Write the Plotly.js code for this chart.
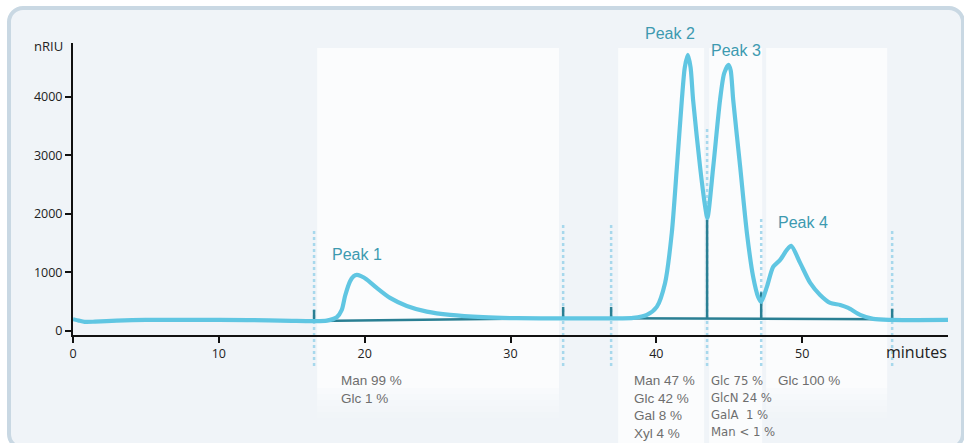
<!DOCTYPE html>
<html><head><meta charset="utf-8">
<script src="https://cdn.plot.ly/plotly-3.0.1.min.js"></script>
<style>
html,body{margin:0;padding:0;background:#fff;width:964px;height:443px;overflow:hidden}
#frame{position:absolute;left:7px;top:6px;width:958px;height:444px;box-sizing:border-box;border:4px solid #c9d8e3;border-radius:16px;background:#f0f4f8}
#chart{position:absolute;left:0;top:0;width:964px;height:443px}
</style></head><body><div id="frame"></div><div id="chart"></div>
<script>
// Chromatogram signal (minutes vs nRIU)
const minutes = [0,0.4,0.8,1.5,3,5,8,12,15,16.5,17.4,18.09,18.43,18.66,19.0,19.25,19.46,19.75,20.14,20.83,21.74,22.89,24.26,25.86,28.12,30.43,33.6,37.5,38.41,39.35,40.03,40.6,41.06,41.41,41.75,41.95,42.16,42.35,42.52,43.0,43.35,43.5,43.9,44.37,44.65,44.95,45.1,45.27,45.75,46.21,46.64,46.98,47.19,47.58,48.01,48.49,48.95,49.25,49.86,50.55,51.23,51.92,52.61,53.16,53.98,54.87,56.04,60];
const nriu =    [200,175,155,158,175,188,190,185,172,168,176,234,359,600,850,935,957,935,880,735,564,427,330,273,234,217,215,215,222,273,410,820,1675,2803,3949,4500,4718,4500,3949,2803,2120,1930,2800,3950,4400,4547,4450,3950,2800,1675,923,581,496,752,1094,1214,1385,1453,1162,820,615,479,444,393,273,205,188,188];

// Integration baselines and drop lines
const baseX = [16.53,33.61,null,36.9,56.17];
const baseY = [168,217,null,218,200];
const dropX = [16.53,16.53,null,33.61,33.61,null,36.9,36.9,null,43.48,43.48,null,47.19,47.19,null,56.17,56.17];
const dropY = [168,360,null,217,410,null,218,410,null,215,1900,null,212,660,null,200,380];

// Peak boundaries (dotted dividers)
const boundaries = [16.53,33.61,36.9,43.48,47.19,56.17];
const boundaryTop = [1760,1810,1810,3490,1950,1760];
const boundaryBottom = -600;

// Labels
const peakNames = ['Peak 1','Peak 2','Peak 3','Peak 4'];
const peakLabelX = [19.48,40.95,45.47,50.07];
const peakLabelY = [1300,5080,4800,1860];
const compositions = [
  ['Man 99 %','Glc 1 %'],
  ['Man 47 %','Glc 42 %','Gal 8 %','Xyl 4 %'],
  ['Glc 75 %','GlcN 24 %','GalA\u00a0 1 %','Man &lt; 1 %'],
  ['Glc 100 %']
];
const compX = [18.24,38.34,43.62,48.22];
const xTicks = [0,10,20,30,40,50];
const yTicks = [0,1000,2000,3000,4000];

const YMIN = -70, YMAX = 4920;
const yp = v => (v - YMIN) / (YMAX - YMIN);

const dark = '#2a7f93', curve = '#60c6e2', dotc = '#a7d8ec', labelc = '#3d9ab0';

const traces = [
  {x: baseX, y: baseY, mode:'lines', line:{color:dark,width:2.5}, hoverinfo:'skip'},
  {x: dropX, y: dropY, mode:'lines', line:{color:dark,width:2.5}, hoverinfo:'skip'},
  {x: minutes, y: nriu, mode:'lines', line:{color:curve,width:4.2,shape:'spline',smoothing:0.7}, hoverinfo:'skip'}
];

const shapes = [];
function panel(x0,x1,bottomPx,fade){
  const top = (335-48)/292;
  const mainBottom = fade ? (335-bottomPx)/292 : -0.5;
  shapes.push({type:'rect',xref:'x',yref:'paper',x0:x0,x1:x1,y0:mainBottom,y1:top,fillcolor:'rgba(255,255,255,0.7)',line:{width:0},layer:'below'});
  if(fade){
    const steps=[0.55,0.42,0.3,0.2,0.12,0.05];
    steps.forEach((o,i)=>{
      shapes.push({type:'rect',xref:'x',yref:'paper',x0:x0,x1:x1,y0:(335-bottomPx-6*(i+1))/292,y1:(335-bottomPx-6*i)/292,fillcolor:'rgba(255,255,255,'+o+')',line:{width:0},layer:'below'});
    });
  }
}
panel(16.74,33.33,388,true);
panel(37.38,43.28,0,false);
panel(43.62,47.26,0,false);
panel(47.53,55.83,388,true);

boundaries.forEach((b,i)=>{
  shapes.push({type:'line',xref:'x',yref:'paper',x0:b,x1:b,y0:yp(boundaryBottom),y1:yp(boundaryTop[i]),line:{color:dotc,width:2.5,dash:'dot'},layer:'below'});
});

const annotations = [];
peakNames.forEach((n,i)=>{
  annotations.push({text:n,x:peakLabelX[i],y:yp(peakLabelY[i]),xref:'x',yref:'paper',xanchor:'center',yanchor:'middle',showarrow:false,font:{family:'Liberation Sans, Arial, sans-serif',size:16,color:labelc}});
});
compositions.forEach((c,i)=>{
  annotations.push({text:c.join('<br>'),x:compX[i],y:(335-371)/292,xref:'x',yref:'paper',xanchor:'left',yanchor:'top',align:'left',showarrow:false,
    font:{family:(i===2?'DejaVu Sans Condensed, ':'Liberation Sans, Arial, ')+'sans-serif',size:(i===2?13:13.5),color:'#6e6e6e'}});
});
annotations.push({text:'nRIU',x:(48-73)/875,y:(335-46)/292,xref:'paper',yref:'paper',xanchor:'center',yanchor:'middle',showarrow:false,font:{family:'Open Sans, sans-serif',size:13,color:'#222'}});
annotations.push({text:'minutes',x:(916-73)/875,y:(335-352)/292,xref:'paper',yref:'paper',xanchor:'center',yanchor:'middle',showarrow:false,font:{family:'Open Sans, sans-serif',size:16,color:'#222'}});

const layout = {
  width:964,height:443,margin:{l:73,r:16,t:43,b:108},
  paper_bgcolor:'rgba(0,0,0,0)',plot_bgcolor:'rgba(0,0,0,0)',showlegend:false,
  xaxis:{range:[0,60],showline:true,linecolor:'#111',linewidth:2,ticks:'outside',ticklen:6,tickwidth:2,tickcolor:'#111',
    tickvals:xTicks,ticktext:xTicks.map(String),showgrid:false,zeroline:false,tickfont:{family:'Open Sans, sans-serif',size:12.5,color:'#222'}},
  yaxis:{range:[YMIN,YMAX],showline:true,linecolor:'#111',linewidth:2,ticks:'outside',ticklen:6,tickwidth:2,tickcolor:'#111',
    tickvals:yTicks,ticktext:yTicks.map(String),showgrid:false,zeroline:false,tickfont:{family:'Open Sans, sans-serif',size:12.5,color:'#222'}},
  shapes:shapes,annotations:annotations
};
Plotly.newPlot('chart',traces,layout,{staticPlot:true,displayModeBar:false});
</script></body></html>
